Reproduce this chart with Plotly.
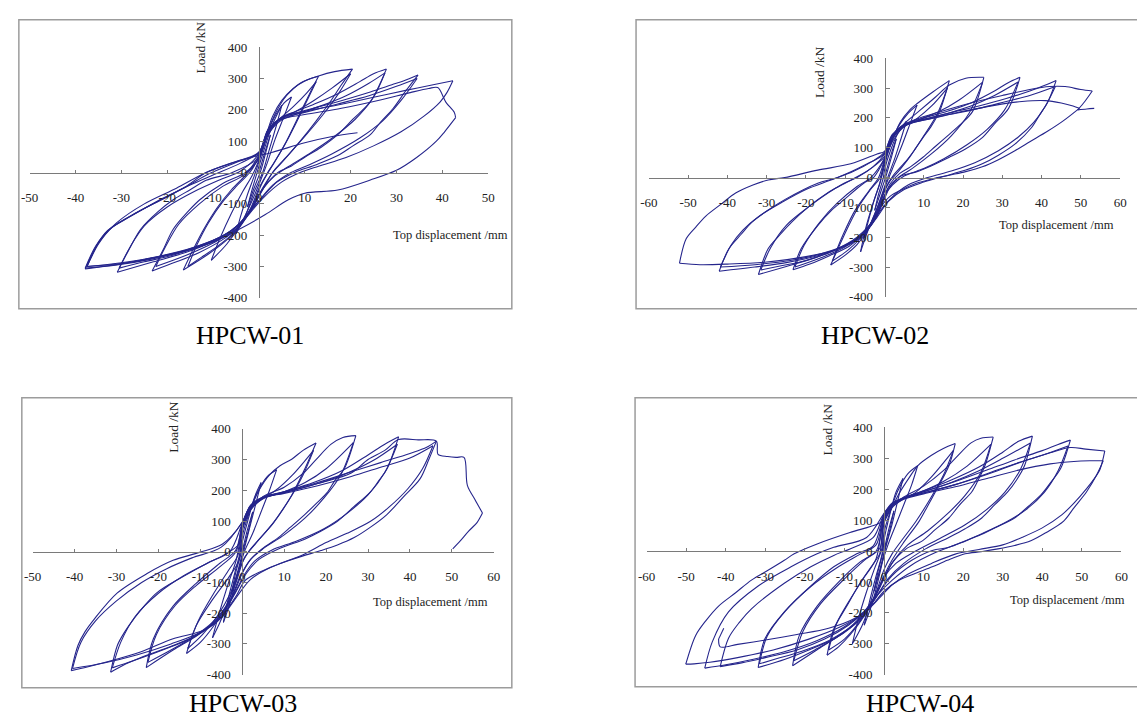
import plotly.graph_objects as go

W, H = 1137, 728

# ---------------- data (displacement mm, load kN) ----------------
HPCW01 = [
    (0,0),(1.2,60),(2.5,120),(1.6,70),(0.5,10),(-1.2,-55),(-2.5,-110),(-1.6,-60),(-0.5,-5),
    (0,20),(1.5,90),(3,155),(5,215),(3.8,150),(2.2,70),(0.8,0),(-1,-60),(-3,-140),(-5,-195),(-4,-140),(-2.5,-70),(-1,-10),
    (0,35),(1.5,110),(3.5,180),(5.5,222),(7.1,241),(5.5,180),(3.5,105),(1.8,30),(0.5,-20),(-1.5,-90),(-4,-165),(-7,-228),(-10.4,-280),(-8.5,-210),(-6,-130),(-3.5,-60),(-1.5,-10),
    (0,40),(1.5,115),(3,180),(5,230),(7.5,268),(10,292),(13,307),(11,250),(8.5,175),(6,100),(3.5,35),(2,0),(0.5,-40),(-1.5,-110),(-4,-170),(-7,-215),(-11,-260),(-16.5,-311),(-14.5,-250),(-12,-180),(-9,-110),(-6,-55),(-3,-10),
    (0,45),(2,120),(4.5,170),(7.5,210),(10.5,255),(12.5,290),(10.5,230),(8,155),(5.5,85),(3,25),(1.5,-10),(0,-50),(-2,-120),(-5,-185),(-9,-235),(-12.5,-270),(-15.5,-300),(-13.5,-230),(-11,-160),(-8,-95),(-5,-45),(-2,0),
    (0,50),(2,135),(4,200),(6,245),(9,285),(13,308),(16.5,322),(20.4,330),(18,280),(15.5,225),(12.5,165),(9,100),(5.5,40),(3,0),(1,-50),(-1.5,-115),(-4.5,-175),(-8,-215),(-13,-255),(-18,-285),(-23.3,-314),(-21,-250),(-18.7,-181),(-15.5,-125),(-12.9,-87),(-7.9,-35),(-2.9,0),
    (0,45),(2,125),(4.5,170),(8,195),(12,230),(16,270),(20,315),(17.5,255),(14,185),(10,115),(6,50),(3.5,10),(1,-45),(-2,-125),(-5,-180),(-10,-225),(-16,-265),(-22.5,-300),(-20.5,-240),(-17.5,-165),(-13,-100),(-8,-45),(-3,-5),
    (0,55),(2,130),(4.5,172),(8,195),(12,218),(17,250),(22,290),(25,315),(27.8,330),(24.3,226),(20.5,170),(17.2,121),(13.5,80),(10,49),(7,20),(4.3,2),(2,-30),(0,-70),(-2,-120),(-5,-175),(-10,-220),(-16,-255),(-23,-285),(-30.9,-318),(-28.5,-250),(-25.8,-181),(-22,-125),(-18.7,-87),(-15,-55),(-11.5,-25),(-5.8,0),
    (0,48),(2,122),(5,168),(9,190),(14,215),(19,245),(24,285),(27.5,318),(25,240),(21,170),(16,110),(11,60),(6,15),(3.5,-10),(1,-50),(-2,-125),(-6,-185),(-12,-230),(-19,-265),(-25,-285),(-30.5,-305),(-28,-235),(-25,-170),(-20,-110),(-14,-60),(-8,-20),(-4,5),
    (0,60),(2,135),(5,175),(10,198),(17.2,226),(24.3,257),(29,280),(31.5,292),(34.7,311),(32,260),(29.3,205),(26.5,160),(24.3,121),(20.5,85),(17.2,54),(12.5,25),(7.9,1),(4,-30),(1,-75),(-1.5,-115),(-4.3,-165),(-7.9,-202),(-15,-243),(-22.3,-270),(-29.4,-290),(-35,-302),(-37.9,-308),(-35.5,-235),(-33,-185),(-28,-140),(-22,-90),(-16,-45),(-11.5,0),(-4.3,38),
    (0,65),(2,135),(5,172),(10,192),(17,218),(24,245),(30,275),(34.5,300),(31,230),(27,165),(22,110),(16,60),(11,25),(7,0),(3,-40),(0,-90),(-3,-145),(-7,-195),(-14,-238),(-22,-268),(-30,-288),(-37.5,-300),(-35,-228),(-32,-175),(-27,-130),(-21,-85),(-15,-40),(-10,-8),(-4,30),
    (0,65),(2,138),(5,175),(10,195),(18,218),(25,240),(32,262),(38,280),(42.3,293),(41,255),(39.5,225),(36,180),(31,130),(25,85),(19,48),(13,20),(9,0),(5,-30),(1,-80),(-2,-130),(-5,-180),(-9,-215),(-16,-250),(-24,-278),(-31,-295),(-37.9,-305),(-35.5,-232),(-32.5,-180),(-27.5,-135),(-21.5,-88),(-15.5,-42),(-11,-5),(-5,32),
    (0,62),(2,135),(5,170),(10,185),(18,205),(26,230),(33,255),(37,268),(39,271),(40.8,224),(42.6,192),(42.9,175),(40.5,130),(38.7,100),(34.4,48),(30,7),(24.3,-24),(17.2,-56),(10,-66),(6.4,-87),(1.4,-134),(-4.3,-181),(-9,-215),(-16,-250),(-24,-275),(-31,-292),(-37.5,-300),(-35,-225),(-31,-160),(-25,-100),(-18,-50),(-11.5,0),(-4.3,38),(2.8,64),(10,95),(16,115),(21.5,127),
]

HPCW02 = [
    (0,0),(1.5,70),(3,130),(1.8,70),(0.5,10),(-1,-50),(-2.5,-110),(-1.5,-55),(-0.3,0),
    (0,25),(1.5,90),(3.5,150),(5.6,189),(4.2,130),(2.5,60),(0.8,0),(-1,-70),(-3,-140),(-5.3,-205),(-4,-140),(-2.5,-70),(-1,-10),
    (0,40),(1.5,110),(3.5,170),(6,215),(8.3,243),(6.5,180),(4.5,110),(2.5,45),(0.8,-10),(-1.5,-90),(-4,-170),(-6.1,-249),(-4.8,-170),(-3,-90),(-1.2,-20),
    (0,50),(2,125),(4,185),(6.5,228),(8.5,250),(12.3,287),(16.5,325),(14,221),(11.8,170),(9.8,134),(7.5,90),(5.6,57),(2.3,8),(0.5,-30),(-1.5,-100),(-4,-170),(-7,-225),(-10,-260),(-13.7,-293),(-10.3,-194),(-7,-107),(-3.6,-41),(-1.1,0),
    (0,55),(2,120),(4.5,165),(8,195),(12,240),(16,300),(13.5,215),(10,140),(6.5,70),(3.5,20),(1.5,-10),(0,-45),(-2,-115),(-5,-185),(-9,-240),(-13.3,-280),(-10.5,-190),(-7.5,-110),(-4,-45),(-1.5,0),
    (0,60),(2,130),(5,180),(9,225),(13,270),(16.5,310),(20.7,333),(25.3,336),(22.4,221),(19.5,180),(16.5,145),(13,105),(9.8,68),(6.5,35),(3.9,14),(1.5,-20),(0,-60),(-2,-125),(-5,-185),(-9,-230),(-14,-262),(-19,-290),(-23.3,-309),(-21.2,-238),(-17,-161),(-13.5,-110),(-10.3,-74),(-5.3,-19),(-2.8,0),
    (0,62),(2,130),(5,172),(9,195),(14,222),(19,260),(25,320),(21.5,215),(17,140),(12,80),(7,30),(3.5,0),(1,-35),(-1.5,-110),(-5,-180),(-10,-232),(-16,-268),(-22.8,-300),(-20.5,-228),(-16.5,-150),(-12,-85),(-7,-30),(-3.5,0),
    (0,65),(2,135),(5,178),(10,200),(16,222),(22,250),(28,290),(31.5,318),(34.5,336),(31.6,232),(28,180),(24.9,134),(20.5,95),(16.5,68),(12,40),(8.1,19),(3.9,3),(1.5,-30),(0,-70),(-2,-130),(-6,-195),(-12,-240),(-18,-270),(-25,-298),(-32.1,-325),(-29.6,-238),(-26.5,-190),(-23.7,-150),(-17,-74),(-10.3,-19),(-7,0),(-1.9,46),
    (0,70),(2,138),(5,175),(10,195),(16,215),(22,240),(28,275),(34,320),(30.5,225),(26,160),(21,110),(15,62),(10,30),(5,5),(2,-25),(0,-60),(-2.5,-135),(-7,-200),(-13,-245),(-20,-278),(-26,-295),(-31.5,-310),(-29,-235),(-25,-160),(-19,-95),(-13,-40),(-8,-5),(-3,35),
    (0,78),(2,140),(5,175),(10,195),(17,218),(24,240),(31,265),(37,290),(41,310),(43.7,325),(41.6,254),(39.5,210),(37.4,167),(33.2,112),(29,75),(24.9,46),(20.7,25),(14.8,3),(10,-15),(5,-40),(1,-80),(-2,-135),(-5,-185),(-10,-228),(-17,-262),(-25,-285),(-33,-300),(-42.1,-314),(-39.6,-238),(-36.5,-190),(-33.8,-150),(-29.5,-108),(-25.4,-74),(-17,-19),(-12,0),(-4.4,46),
    (0,80),(2,142),(5,175),(10,193),(17,212),(24,232),(31,255),(37,275),(43.5,305),(41,240),(38,185),(34,135),(29,90),(23,50),(17,22),(11,0),(6,-25),(2,-65),(-1,-110),(-4,-170),(-9,-220),(-16,-255),(-24,-278),(-33,-292),(-41.8,-300),(-39,-225),(-36,-175),(-32,-130),(-26,-82),(-20,-40),(-14,-10),(-8,20),(-3,55),
    (0,85),(2,145),(6,178),(12,198),(20,222),(28,242),(35,255),(41,258),(45,250),(48,240),(49.6,232),(45.5,190),(41.6,156),(37,120),(33.2,90),(29,60),(24.9,36),(20.7,20),(16.5,8),(12,-5),(8.1,-19),(4.5,-40),(1.4,-63),(-1,-100),(-3,-150),(-6,-200),(-12,-240),(-20,-265),(-30,-283),(-40,-290),(-47,-292),(-52.2,-287),(-50.5,-205),(-48,-165),(-45.5,-129),(-41.5,-88),(-37.9,-52),(-33.5,-25),(-29.6,-8),(-25.4,0),(-17,25),(-8.6,46),(-1.9,79),
    (0,88),(1.5,130),(4,170),(8,195),(14,220),(22,250),(30,275),(37,295),(42,305),(46,305),(50,295),(52.9,290),(51,255),(49.2,227),(51.5,230),(53.4,232),
]

HPCW03 = [
    (0,0),(1.2,70),(2.5,130),(1.5,70),(0.3,10),(-1,-60),(-2.5,-130),(-1.5,-65),(-0.3,-5),
    (0,30),(1.5,110),(3,180),(4.5,225),(3.3,160),(1.8,80),(0.5,10),(-1.2,-80),(-3,-170),(-4.5,-230),(-3.3,-150),(-1.8,-70),(-0.5,0),
    (0,50),(1.5,120),(3.5,190),(6,245),(8.2,267),(6.5,200),(4.5,130),(2.5,60),(0.5,0),(-1.5,-90),(-3.5,-170),(-5.5,-235),(-7.1,-280),(-5.5,-200),(-3.5,-110),(-1.5,-30),
    (0,70),(2,140),(4,200),(6.5,250),(9,280),(11.8,301),(14.5,330),(17.6,354),(14.9,269),(11.8,184),(9.5,135),(7.1,89),(3.1,25),(0.5,-20),(-1.5,-100),(-4,-180),(-7,-245),(-10,-295),(-13.3,-331),(-11,-241),(-7.1,-156),(-3.1,-81),(-0.8,-28),
    (0,75),(2,135),(4.5,170),(8,200),(12,250),(17,330),(14.5,250),(11,165),(7.5,95),(4,40),(1.5,0),(-0.5,-50),(-3,-140),(-6,-210),(-9.5,-270),(-13,-315),(-10.5,-225),(-7,-140),(-3.5,-65),(-1,-10),
    (0,80),(2,140),(5,180),(10,210),(14.5,255),(17.6,300),(21.2,350),(24,372),(27.1,378),(24.3,269),(22,230),(20.4,195),(17.5,155),(14.9,121),(11.5,80),(8.6,46),(4.7,9),(2,-25),(0,-70),(-2.5,-150),(-6,-220),(-10.5,-270),(-16.5,-320),(-22.9,-377),(-21.2,-283),(-16.5,-177),(-11,-103),(-5.5,-39),(-1.6,4),
    (0,85),(2,140),(5,172),(10,195),(15,225),(20,270),(26.5,355),(23.5,250),(19.5,175),(15,110),(10,55),(5,10),(2,-25),(-0.5,-80),(-3,-160),(-7,-228),(-12,-280),(-17,-320),(-22.5,-360),(-20.5,-270),(-16,-175),(-11,-110),(-5,-45),(-1.5,0),
    (0,88),(2,145),(5,175),(10,195),(17,225),(24,265),(30,315),(34,350),(37.3,374),(34.5,269),(32.5,230),(30.6,195),(26.5,145),(22.7,99),(18.5,65),(14.9,41),(8.6,9),(4,-25),(1,-70),(-1.5,-130),(-5,-210),(-10,-265),(-16.5,-305),(-24.3,-345),(-28.5,-370),(-31.4,-392),(-29.8,-305),(-28,-260),(-25.9,-219),(-20.4,-134),(-14.1,-81),(-8.6,-39),(-3.9,-7),(-0.8,25),
    (0,90),(2,148),(5,175),(10,192),(17,218),(24,250),(31,295),(37,350),(34,258),(30,185),(25,125),(19.5,75),(13,35),(7,5),(3,-30),(0.5,-75),(-2,-140),(-6,-220),(-12,-280),(-19,-320),(-26,-355),(-31,-378),(-29,-295),(-25.5,-210),(-20,-135),(-14,-78),(-8,-35),(-3,0),
    (0,92),(2,150),(5,178),(10,195),(18,225),(26,260),(33,290),(40,320),(44,340),(46.3,360),(44.5,300),(42.4,237),(38.4,178),(34.5,121),(30.6,80),(26.7,46),(22.7,22),(18.8,4),(13,-20),(7.1,-49),(2,-90),(-1.5,-150),(-5,-215),(-9,-255),(-16.5,-283),(-24.3,-326),(-32.2,-358),(-37,-375),(-40.8,-387),(-39.2,-305),(-37.5,-260),(-35.3,-219),(-29.8,-134),(-22.7,-71),(-16.5,-28),(-10.2,-2),(-4.7,25),
    (0,95),(2,150),(5,176),(10,190),(18,215),(26,245),(33,275),(40,305),(45.5,345),(43,270),(39.5,205),(35,145),(30.6,99),(25,60),(20,30),(14.9,-7),(7.1,-49),(0.8,-92),(-1.5,-145),(-5,-210),(-10,-262),(-17,-300),(-25,-335),(-33,-362),(-40.5,-380),(-38.5,-295),(-35,-225),(-30,-160),(-24,-100),(-18,-55),(-12,-20),(-5,15),
    (0,97),(2,152),(5,178),(10,193),(18,222),(26,256),(30,300),(34,330),(37.3,365),(42,364),(46.3,360),(46.7,317),(49,310),(51,307),(52.9,307),(53.7,216),(55.5,170),(57.3,126),(56,95),(54,67),(52,35),(50.2,9),
]

HPCW04 = [
    (0,0),(1.2,70),(2.5,130),(1.5,70),(0.3,10),(-1,-60),(-2.5,-130),(-1.5,-65),(-0.3,-5),
    (0,35),(1.5,120),(3,190),(4.8,235),(3.5,165),(2,85),(0.5,15),(-1.2,-80),(-3,-170),(-5,-240),(-3.6,-160),(-2,-80),(-0.5,-10),
    (0,60),(1.5,125),(3.5,195),(6,250),(8.5,276),(7,215),(5,150),(3,85),(1,20),(-1.5,-80),(-3.5,-170),(-5.5,-240),(-8,-300),(-6.5,-220),(-4.5,-135),(-2.5,-60),(-0.5,10),
    (0,90),(2,140),(4,190),(6.5,240),(8.5,276),(12,310),(15,332),(18,348),(16.4,276),(13,192),(11,145),(8.9,97),(4.7,23),(2,-30),(0,-80),(-2,-140),(-5,-210),(-8.5,-270),(-11.5,-310),(-14.4,-337),(-12.7,-252),(-9.4,-178),(-6.1,-104),(-2.7,-41),(-1.1,-9),
    (0,100),(2,140),(4.5,165),(8,190),(12,240),(17.5,325),(15,245),(11.5,165),(8,95),(4.5,35),(2,-10),(0,-60),(-2.5,-150),(-6,-225),(-10,-285),(-14,-320),(-12,-235),(-8.5,-155),(-5,-85),(-2,-25),
    (0,105),(2,145),(5,175),(10,210),(15,260),(18,300),(22,350),(24.5,365),(27.6,369),(25.5,276),(23.8,230),(22.2,192),(19,148),(16.4,107),(13,70),(9.7,33),(5.6,7),(2,-40),(0,-90),(-2.5,-155),(-6,-220),(-11,-270),(-17,-320),(-23.1,-371),(-21.4,-273),(-16.9,-178),(-11,-94),(-6.1,-36),(-1.9,2),
    (0,108),(2,148),(5,172),(10,195),(15,225),(21,275),(27,345),(24.5,255),(20.5,180),(16,120),(11,65),(6,20),(2.5,-30),(0,-85),(-3,-165),(-7,-230),(-12,-280),(-17.5,-320),(-22.8,-355),(-20.5,-260),(-16,-170),(-10,-90),(-5,-30),(-1,10),
    (0,112),(2,150),(5,172),(10,195),(17,230),(24,272),(30,320),(34,355),(37.5,372),(35.5,276),(33.5,230),(31.3,192),(28,150),(24.7,107),(20.5,72),(16.4,44),(10.5,7),(5,-40),(1,-90),(-2,-150),(-6,-220),(-12,-280),(-19,-320),(-25,-350),(-31.8,-377),(-30.1,-284),(-25.2,-197),(-18.5,-113),(-12.7,-51),(-6.9,-9),(-2.7,17),
    (0,115),(2,150),(5,172),(10,192),(17,222),(24,260),(30,300),(37,350),(34.5,265),(30.5,190),(26,135),(20.5,85),(14,40),(8,0),(3,-40),(0,-85),(-3,-160),(-8,-240),(-14,-290),(-21,-325),(-27,-348),(-31.5,-365),(-29.5,-275),(-25,-195),(-18.5,-115),(-12,-55),(-6,-10),(-2,20),
    (0,118),(2,152),(5,172),(10,192),(18,225),(26,262),(33,295),(40,325),(44,345),(47.1,359),(44.6,266),(42,220),(39.6,181),(36.5,145),(33,107),(28.5,78),(24.7,54),(20.5,32),(16.4,12),(12.2,2),(7,-30),(2,-80),(-1,-130),(-4,-185),(-9,-240),(-15,-285),(-22,-320),(-30,-345),(-36,-362),(-41.4,-374),(-39.3,-282),(-36.5,-230),(-33.5,-187),(-25.2,-104),(-18.5,-51),(-12.7,-14),(-8.6,7),(-2.7,44),
    (0,120),(2,152),(5,170),(10,188),(18,215),(26,250),(33,282),(40,310),(46.5,340),(44,260),(40.5,190),(36,135),(31,95),(25,58),(19,25),(13,-5),(7,-45),(2,-95),(-1.5,-140),(-5,-195),(-10,-245),(-17,-290),(-25,-325),(-33,-350),(-40,-368),(-45.3,-379),(-43.4,-294),(-39.3,-197),(-31.8,-113),(-23.5,-51),(-16.9,-9),(-12.7,12),(-4.4,44),
    (0,122),(2,155),(5,172),(10,188),(18,215),(26,248),(34,285),(42,318),(47.1,335),(51,330),(55.8,324),(54.6,265),(53,232),(51.2,202),(48,155),(45,118),(40,75),(35,45),(30,20),(24,5),(18,-10),(12,-40),(6,-75),(2,-110),(-1,-150),(-5,-200),(-11,-245),(-19,-285),(-28,-320),(-37,-345),(-44,-360),(-48,-365),(-50.1,-366),(-47.6,-273),(-45,-225),(-41.8,-178),(-37.5,-135),(-33.5,-94),(-29,-60),(-25.2,-30),(-22.7,-9),(-16.9,23),(-8.6,60),(-1.9,86),
    (0,100),(2,145),(5,168),(10,185),(18,208),(26,235),(34,262),(42,282),(48,290),(52,292),(55.4,292),(53.7,245),(51.2,192),(48,140),(45.4,97),(41,60),(37.1,33),(33,18),(28.8,7),(24.5,-2),(20.5,-9),(16,-30),(12.2,-51),(8,-72),(3.9,-94),(0,-130),(-3,-175),(-7,-215),(-14,-250),(-22,-270),(-30,-288),(-37,-302),(-41.4,-310),(-41.8,-285),(-40.5,-250),
]

CAPTIONS = ["HPCW-01", "HPCW-02", "HPCW-03", "HPCW-04"]
X_TICKS = [
    [-50, -40, -30, -20, -10, 0, 10, 20, 30, 40, 50],
    [-60, -50, -40, -30, -20, -10, 0, 10, 20, 30, 40, 50, 60],
    [-50, -40, -30, -20, -10, 0, 10, 20, 30, 40, 50, 60],
    [-60, -50, -40, -30, -20, -10, 0, 10, 20, 30, 40, 50, 60],
]
Y_TICKS = [-400, -300, -200, -100, 0, 100, 200, 300, 400]
X_TITLE = "Top displacement /mm"
Y_TITLE = "Load /kN"

# ---------------- layout geometry (pixels) ----------------
PANELS = [
    dict(px=(21, 486), xr=(-50, 50), py=(41, 297), box=(10, 13, 510, 308),
         ytit=(194, 41), xtit=(387, 233), cap=(244, 352)),
    dict(px=(649, 1127), xr=(-60, 60), py=(52.3, 296), box=(636, 13, 1150, 308),
         ytit=(822, 66), xtit=(1002, 223), cap=(878, 352)),
    dict(px=(24, 491.7), xr=(-50, 60), py=(430.7, 681.7), box=(13, 399, 510, 695),
         ytit=(167, 429), xtit=(367, 608), cap=(237, 731)),
    dict(px=(646.7, 1128.3), xr=(-60, 60), py=(429.3, 681.7), box=(635, 399, 1150, 694),
         ytit=(830, 431), xtit=(1013, 605), cap=(924, 731)),
]
DATA = [HPCW01, HPCW02, HPCW03, HPCW04]

LINE_COLOR = "#25258c"
AXIS_COLOR = "#7a7a7a"
SERIF = "Liberation Serif, Times New Roman, serif"


def split_branches(path):
    """Split the load path at every reversal of displacement direction so each
    half-cycle is smoothed on its own (turning points are shared)."""
    segs, cur, prev = [], [path[0]], 0
    for p in path[1:]:
        d = p[0] - cur[-1][0]
        direction = 1 if d > 0 else (-1 if d < 0 else prev)
        if prev != 0 and direction != prev:
            segs.append(cur)
            cur = [cur[-1]]
        cur.append(p)
        prev = direction
    segs.append(cur)
    xs, ys = [], []
    for s in segs:
        xs += [q[0] for q in s] + [None]
        ys += [q[1] for q in s] + [None]
    return xs, ys


fig = go.Figure()
layout = dict(width=W, height=H, margin=dict(l=0, r=0, t=0, b=0),
              paper_bgcolor="white", plot_bgcolor="white", showlegend=False)
shapes, annotations = [], []

for i, (pan, path) in enumerate(zip(PANELS, DATA)):
    n = "" if i == 0 else str(i + 1)
    x0, x1 = pan["px"]
    xmin, xmax = pan["xr"]
    ytop, ybot = pan["py"]
    xzero_px = x0 + (0 - xmin) / (xmax - xmin) * (x1 - x0)
    yzero_px = (ytop + ybot) / 2

    xs, ys = split_branches(path)
    fig.add_trace(go.Scatter(
        x=xs, y=ys, mode="lines", xaxis="x" + n, yaxis="y" + n,
        line=dict(color=LINE_COLOR, width=1.1, shape="spline", smoothing=0.9),
        connectgaps=False, hoverinfo="skip"))

    xt = X_TICKS[i]
    layout["xaxis" + n] = dict(
        domain=[x0 / W, x1 / W], range=[xmin, xmax], anchor="free",
        position=1 - yzero_px / H, showline=True, linecolor=AXIS_COLOR, linewidth=1,
        ticks="inside", ticklen=3, tickcolor=AXIS_COLOR, tickmode="array",
        tickvals=xt, ticktext=[str(v) for v in xt], ticklabelstandoff=13,
        tickfont=dict(family=SERIF, size=13, color="#222"),
        showgrid=False, zeroline=False, fixedrange=True)
    layout["yaxis" + n] = dict(
        domain=[1 - ybot / H, 1 - ytop / H], range=[-400, 400], anchor="free",
        position=xzero_px / W, side="left", showline=True, linecolor=AXIS_COLOR,
        linewidth=1, ticks="inside", ticklen=4, tickcolor=AXIS_COLOR,
        tickmode="array", tickvals=Y_TICKS, ticktext=[str(v) for v in Y_TICKS],
        ticklabelstandoff=9, tickfont=dict(family=SERIF, size=13, color="#222"),
        showgrid=False, zeroline=False, fixedrange=True)

    bx0, by0, bx1, by1 = pan["box"]
    shapes.append(dict(type="rect", xref="paper", yref="paper",
                       x0=bx0 / W, x1=bx1 / W, y0=1 - by1 / H, y1=1 - by0 / H,
                       line=dict(color="#9c9c9c", width=1.5), layer="below"))

    tx, ty = pan["ytit"]
    annotations.append(dict(text=Y_TITLE, textangle=-90, xref="paper", yref="paper",
                            x=tx / W, y=1 - ty / H, xanchor="center", yanchor="middle",
                            showarrow=False, font=dict(family=SERIF, size=13.5, color="#222")))
    tx, ty = pan["xtit"]
    annotations.append(dict(text=X_TITLE, xref="paper", yref="paper",
                            x=tx / W, y=1 - ty / H, xanchor="left", yanchor="middle",
                            showarrow=False, font=dict(family=SERIF, size=12.5, color="#222")))
    cx, cy = pan["cap"]
    annotations.append(dict(text=CAPTIONS[i], xref="paper", yref="paper",
                            x=cx / W, y=max(0, 1 - cy / H), xanchor="center", yanchor="bottom",
                            showarrow=False, font=dict(family=SERIF, size=26, color="black")))

layout["shapes"] = shapes
layout["annotations"] = annotations
fig.update_layout(**layout)

# remove the browser's default 8px body margin right away (synchronously),
# so the 1137x728 figure fills the window exactly
NO_MARGIN = ("}); document.body.style.margin='0'; "
             "document.body.style.overflow='hidden'; "
             "Promise.resolve().then(function(){")
fig.write_html("out.html", config={"displayModeBar": False}, post_script=NO_MARGIN)
